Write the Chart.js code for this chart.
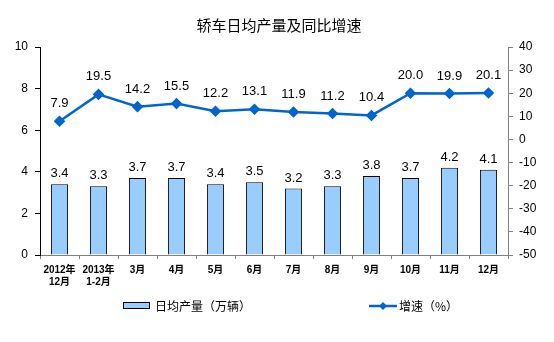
<!DOCTYPE html>
<html>
<head>
<meta charset="utf-8">
<script src="https://cdn.jsdelivr.net/npm/chart.js@4"></script>
<style>
  html, body { margin: 0; padding: 0; background: #fff; }
  #wrap { width: 554px; height: 342px; }
</style>
</head>
<body>
<div id="wrap"><canvas id="chart" width="554" height="342"></canvas></div>
<script>
// Data
const categories = [["2012年", "12月"], ["2013年", "1-2月"], "3月", "4月", "5月", "6月", "7月", "8月", "9月", "10月", "11月", "12月"];
const dailyOutput = [3.4, 3.3, 3.7, 3.7, 3.4, 3.5, 3.2, 3.3, 3.8, 3.7, 4.2, 4.1];
const growthRate = [7.9, 19.5, 14.2, 15.5, 12.2, 13.1, 11.9, 11.2, 10.4, 20.0, 19.9, 20.1];
const titleText = "轿车日均产量及同比增速";
const barLegend = "日均产量（万辆）";
const lineLegend = "增速（%）";

const FONT = '"Liberation Sans", Arial, "Noto Sans CJK SC", sans-serif';
const CJK = '"Noto Sans CJK SC", "Liberation Sans", sans-serif';
const lineColor = "#0066CC";
const barColor = "#99CCFF";

// Draw value labels, title and legend
const extras = {
  id: "extras",
  afterDatasetsDraw(chart) {
    const ctx = chart.ctx;
    ctx.save();
    ctx.fillStyle = "#000";
    ctx.font = "13px " + FONT;
    ctx.textAlign = "center";
    ctx.textBaseline = "bottom";
    chart.getDatasetMeta(0).data.forEach((el, i) => {
      ctx.fillText(dailyOutput[i].toFixed(1), el.x, el.y - 4);
    });
    chart.getDatasetMeta(1).data.forEach((el, i) => {
      ctx.fillText(growthRate[i].toFixed(1), el.x, el.y - 11);
    });

    // title
    ctx.font = "15px " + CJK;
    ctx.textBaseline = "middle";
    ctx.fillText(titleText, 279, 25);

    // legend
    ctx.textAlign = "left";
    ctx.font = "12px " + CJK;
    ctx.fillStyle = barColor;
    ctx.fillRect(123, 302, 27, 7);
    ctx.strokeStyle = "#000";
    ctx.lineWidth = 1;
    ctx.strokeRect(123.5, 302.5, 26, 6);
    ctx.fillStyle = "#000";
    ctx.fillText(barLegend, 155, 306);

    ctx.strokeStyle = lineColor;
    ctx.lineWidth = 2.5;
    ctx.beginPath();
    ctx.moveTo(369, 306);
    ctx.lineTo(397, 306);
    ctx.stroke();
    ctx.fillStyle = lineColor;
    ctx.beginPath();
    ctx.moveTo(383, 302);
    ctx.lineTo(387, 306);
    ctx.lineTo(383, 310);
    ctx.lineTo(379, 306);
    ctx.closePath();
    ctx.fill();
    ctx.fillStyle = "#000";
    ctx.fillText(lineLegend, 399, 306);
    ctx.restore();
  }
};

new Chart(document.getElementById("chart"), {
  data: {
    labels: categories,
    datasets: [
      {
        type: "bar",
        label: barLegend,
        data: dailyOutput,
        yAxisID: "y",
        backgroundColor: barColor,
        borderColor: "#000",
        borderWidth: 1,
        barPercentage: 0.44,
        categoryPercentage: 1,
        order: 2
      },
      {
        type: "line",
        label: lineLegend,
        data: growthRate,
        yAxisID: "y1",
        borderColor: lineColor,
        backgroundColor: lineColor,
        borderWidth: 2.5,
        pointStyle: "rectRot",
        pointRadius: 4,
        pointHoverRadius: 4,
        tension: 0,
        order: 1
      }
    ]
  },
  options: {
    responsive: false,
    animation: false,
    events: [],
    layout: { padding: { top: 47, bottom: 0, left: 0, right: 0 } },
    plugins: {
      legend: { display: false },
      title: { display: false },
      tooltip: { enabled: false }
    },
    scales: {
      x: {
        offset: true,
        grid: { display: true, drawOnChartArea: false, offset: true, tickLength: 4, color: "#808080" },
        border: { color: "#808080" },
        ticks: {
          color: "#000",
          font: { family: FONT, size: 10, weight: "bold" },
          maxRotation: 0,
          autoSkip: false,
          padding: 5
        },
        afterFit(scale) { scale.height = 87; }
      },
      y: {
        position: "left",
        min: 0,
        max: 10,
        ticks: { stepSize: 2, color: "#000", font: { family: FONT, size: 12 }, padding: 7 },
        grid: { display: true, drawOnChartArea: false, tickLength: 5, color: "#000" },
        border: { color: "#000" },
        afterFit(scale) { scale.width = 40; }
      },
      y1: {
        position: "right",
        min: -50,
        max: 40,
        ticks: { stepSize: 10, color: "#000", font: { family: FONT, size: 12 }, padding: 6 },
        grid: { display: true, drawOnChartArea: false, tickLength: 5, color: "#808080" },
        border: { color: "#808080" },
        afterFit(scale) { scale.width = 46; }
      }
    }
  },
  plugins: [extras]
});
</script>
</body>
</html>
